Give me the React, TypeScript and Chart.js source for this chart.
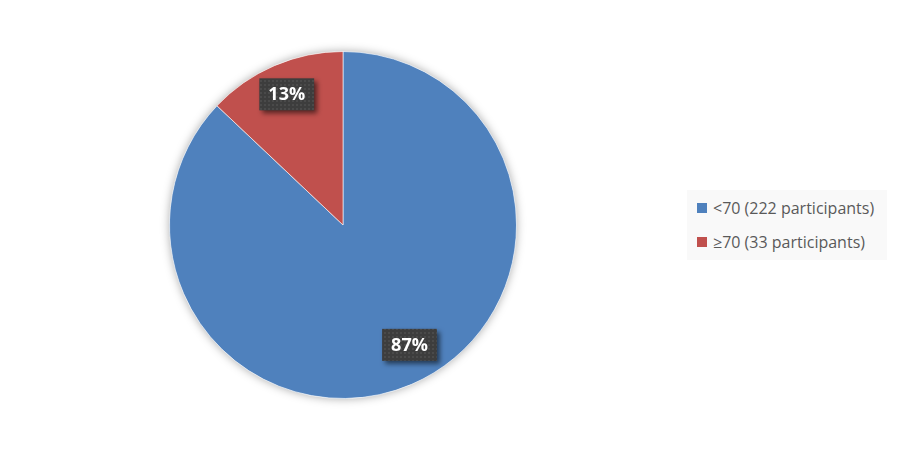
import React, { useEffect, useRef } from "react";
import { Chart, registerables } from "chart.js";

Chart.register(...registerables);

const categories = ["<70 (222 participants)", "≥70 (33 participants)"];
const participants = [222, 33];
const percentLabels = ["87%", "13%"];
const sliceColors = ["#4F81BD", "#C0504D"];
// how far out from the centre each data label sits (fraction of radius)
const labelRadius = [0.79, 0.82];
const labelAngleShift = [-0.1, 0];

function makePattern(ctx: CanvasRenderingContext2D) {
  const c = document.createElement("canvas");
  c.width = 4;
  c.height = 4;
  const p = c.getContext("2d")!;
  p.fillStyle = "#3d3d3d";
  p.fillRect(0, 0, 4, 4);
  p.fillStyle = "#4a4a4a";
  p.fillRect(0, 0, 2, 2);
  return ctx.createPattern(c, "repeat");
}

const pieShadow = {
  id: "pieShadow",
  beforeDatasetsDraw(chart: any) {
    const arc = chart.getDatasetMeta(0).data[0];
    if (!arc) return;
    const ctx = chart.ctx;
    ctx.save();
    ctx.shadowColor = "rgba(0,0,0,0.35)";
    ctx.shadowBlur = 10;
    ctx.beginPath();
    ctx.arc(arc.x, arc.y, arc.outerRadius, 0, Math.PI * 2);
    ctx.fillStyle = "#ffffff";
    ctx.fill();
    ctx.restore();
  },
};

const boxLabels = {
  id: "boxLabels",
  afterDatasetsDraw(chart: any) {
    const ctx = chart.ctx as CanvasRenderingContext2D;
    const meta = chart.getDatasetMeta(0);
    const pattern = makePattern(ctx);
    meta.data.forEach((arc: any, i: number) => {
      const mid = (arc.startAngle + arc.endAngle) / 2 + labelAngleShift[i];
      const r = arc.outerRadius * labelRadius[i];
      const cx = arc.x + Math.cos(mid) * r;
      const cy = arc.y + Math.sin(mid) * r;
      ctx.save();
      ctx.font = "bold 18px 'Open Sans', 'Noto Sans', sans-serif";
      const w = ctx.measureText(percentLabels[i]).width + 18;
      const h = 32;
      ctx.shadowColor = "rgba(0,0,0,0.55)";
      ctx.shadowBlur = 5;
      ctx.shadowOffsetX = 3;
      ctx.shadowOffsetY = 3;
      ctx.fillStyle = pattern || "#404040";
      ctx.fillRect(cx - w / 2, cy - h / 2, w, h);
      ctx.shadowColor = "transparent";
      ctx.fillStyle = "#ffffff";
      ctx.textAlign = "center";
      ctx.textBaseline = "middle";
      ctx.fillText(percentLabels[i], cx, cy + 1);
      ctx.restore();
    });
  },
};

export default function App() {
  const canvasRef = useRef<HTMLCanvasElement>(null);

  useEffect(() => {
    if (!canvasRef.current) return;
    const chart = new Chart(canvasRef.current, {
      type: "pie",
      data: {
        labels: categories,
        datasets: [
          {
            data: participants,
            backgroundColor: sliceColors,
            borderColor: "rgba(255,255,255,0.6)",
            borderWidth: 1,
          },
        ],
      },
      options: {
        animation: false,
        responsive: false,
        maintainAspectRatio: false,
        layout: {
          padding: { left: 169, right: 383, top: 50, bottom: 50 },
        },
        plugins: {
          legend: { display: false },
          tooltip: { enabled: false },
        },
      },
      plugins: [pieShadow, boxLabels],
    });
    return () => chart.destroy();
  }, []);

  return (
    <div
      style={{
        position: "absolute",
        left: 0,
        top: 0,
        width: 900,
        height: 450,
        background: "#ffffff",
      }}
    >
      <canvas ref={canvasRef} width={900} height={450} />
      <div
        style={{
          position: "absolute",
          left: 687,
          top: 190,
          width: 200,
          height: 70,
          background: "#f9f9f9",
          fontFamily: "'Open Sans', 'Noto Sans', sans-serif",
          fontSize: 16,
          color: "#595959",
        }}
      >
        {categories.map((c, i) => (
          <div
            key={c}
            style={{
              position: "absolute",
              left: 10,
              top: 7 + i * 34,
              height: 22,
              display: "flex",
              alignItems: "center",
              whiteSpace: "nowrap",
            }}
          >
            <span
              style={{
                display: "inline-block",
                width: 10,
                height: 10,
                background: sliceColors[i],
                marginRight: 6,
              }}
            />
            {c}
          </div>
        ))}
      </div>
    </div>
  );
}
